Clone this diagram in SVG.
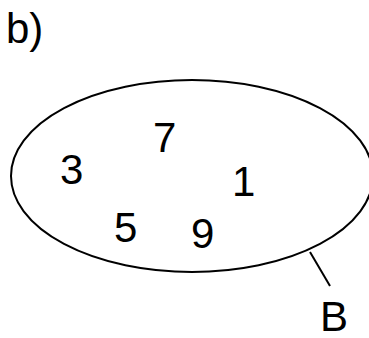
<svg xmlns="http://www.w3.org/2000/svg" width="369" height="338" viewBox="0 0 369 338">
<style>
.t{font-family:"Liberation Sans",Arial,sans-serif;font-size:42px;fill:#000}
.s{fill:none;stroke:#000;stroke-width:2}
</style>
<rect width="369" height="338" fill="#fff"/>
<g id="label-b"><text class="t" x="6" y="43">b)</text></g>
<g id="set-B">
<ellipse class="s" cx="192" cy="176" rx="181" ry="96"/>
<text class="t" x="60" y="184">3</text>
<text class="t" x="153" y="152">7</text>
<text class="t" x="232" y="196">1</text>
<text class="t" x="114" y="242">5</text>
<text class="t" x="191" y="248">9</text>
</g>
<g id="connectors"><line class="s" x1="310" y1="252" x2="330" y2="286"/></g>
<g id="label-B-node"><text class="t" x="320" y="331">B</text></g>
</svg>
